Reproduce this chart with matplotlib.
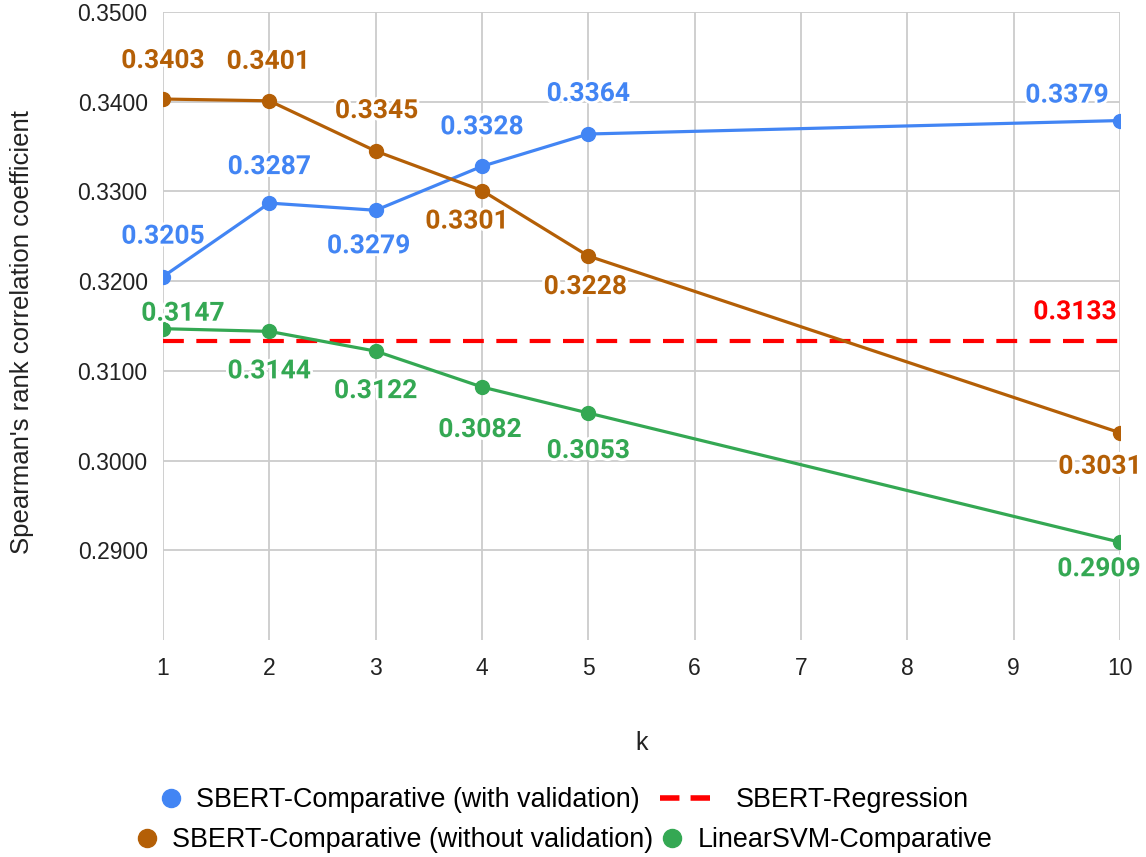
import matplotlib
matplotlib.use('Agg')
import matplotlib.pyplot as plt
import matplotlib.patheffects as pe
from matplotlib.lines import Line2D
from matplotlib.legend_handler import HandlerLine2D

# data
k = [1, 2, 3, 4, 5, 10]
with_val = [0.3205, 0.3287, 0.3279, 0.3328, 0.3364, 0.3379]
without_val = [0.3403, 0.3401, 0.3345, 0.3301, 0.3228, 0.3031]
svm = [0.3147, 0.3144, 0.3122, 0.3082, 0.3053, 0.2909]
regression = 0.3133

x_ticks = [1, 2, 3, 4, 5, 6, 7, 8, 9, 10]
y_ticks = [0.29, 0.30, 0.31, 0.32, 0.33, 0.34, 0.35]

names = ['SBERT-Comparative (with validation)', 'SBERT-Regression',
         'SBERT-Comparative (without validation)', 'LinearSVM-Comparative']

BLUE = '#4285F4'
BROWN = '#B45F06'
RED = '#FF0000'
GREEN = '#34A853'

# label offsets in pixels (dx, dy up)
off_with = [(0, 40), (0, 36), (-7, -36), (0, 39), (0, 40), (-53, 25)]
off_without = [(0, 38), (-1, 39), (1, 40), (-15, -31), (-3, -31), (-20, -34)]
off_svm = [(20, 15), (0, -40), (0, -40), (-2, -43), (0, -38), (-21, -27)]

plt.rcParams['font.family'] = ['Liberation Sans', 'DejaVu Sans']

fig = plt.figure(figsize=(11.46, 8.57), dpi=100)
ax = fig.add_axes([163 / 1146, 217 / 857, 957 / 1146, 628 / 857])

ax.axhline(regression, color=RED, lw=3, linestyle=(0, (5, 3)), zorder=2)
ax.plot(k, with_val, color=BLUE, lw=2.3, marker='o', ms=10, zorder=3)
ax.plot(k, without_val, color=BROWN, lw=2.3, marker='o', ms=10, zorder=3)
ax.plot(k, svm, color=GREEN, lw=2.3, marker='o', ms=10, zorder=3)

halo = [pe.withStroke(linewidth=4, foreground='white')]
px = 0.72


def put_labels(vals, offs, color):
    for xv, yv, (dx, dy) in zip(k, vals, offs):
        ax.annotate(f'{yv:.4f}', (xv, yv), xytext=(dx * px, dy * px),
                    textcoords='offset points', ha='center', va='center',
                    fontsize=19, fontweight='bold', family='Roboto',
                    color=color, path_effects=halo, zorder=5)


put_labels(with_val, off_with, BLUE)
put_labels(without_val, off_without, BROWN)
put_labels(svm, off_svm, GREEN)
ax.annotate(f'{regression:.4f}', (10, regression), xytext=(-45 * px, 29 * px),
            textcoords='offset points', ha='center', va='center',
            fontsize=19, fontweight='bold', family='Roboto',
            color=RED, path_effects=halo, zorder=5)

ax.set_xlim(1, 10)
ax.set_ylim(0.28, 0.35)
ax.set_xticks(x_ticks)
ax.set_yticks(y_ticks)
ax.set_yticklabels([f'{v:.4f}' for v in y_ticks])
ax.tick_params(length=0, labelsize=16.5, colors='#222222')
ax.tick_params(axis='x', pad=12)
ax.tick_params(axis='y', pad=11)
ax.grid(True, color='#cccccc', lw=1.3)
for s in ax.spines.values():
    s.set_visible(False)

ax.set_xlabel('k', fontsize=18, labelpad=37, color='#222222')
fig.text(22 / 1146, 1 - 332 / 857, "Spearman's rank correlation coefficient",
         rotation=90, ha='center', va='center', fontsize=18.5, color='#222222')

h_with = Line2D([], [], color=BLUE, marker='o', ls='none', ms=13)
h_reg = Line2D([], [], color=RED, lw=4, ls=(0, (3.5, 2)))
h_without = Line2D([], [], color=BROWN, marker='o', ls='none', ms=13)
h_svm = Line2D([], [], color=GREEN, marker='o', ls='none', ms=13)

# push the dots towards their text
dot = HandlerLine2D(xpad=1.55)
hmap = {h_with: dot, h_without: dot, h_svm: dot}
leg_kw = dict(ncol=2, loc='center', frameon=False, fontsize=19.4,
              handlelength=2.1, handletextpad=0.68, handler_map=hmap,
              borderpad=0, borderaxespad=0)
fig.legend([h_with, h_reg], [names[0], names[1]], columnspacing=0.76,
           bbox_to_anchor=(545 / 1146, 1 - 800 / 857), **leg_kw)
fig.legend([h_without, h_svm], [names[2], names[3]], columnspacing=-1.14,
           bbox_to_anchor=(545 / 1146, 1 - 840 / 857), **leg_kw)

fig.savefig('out.png', dpi=100)
